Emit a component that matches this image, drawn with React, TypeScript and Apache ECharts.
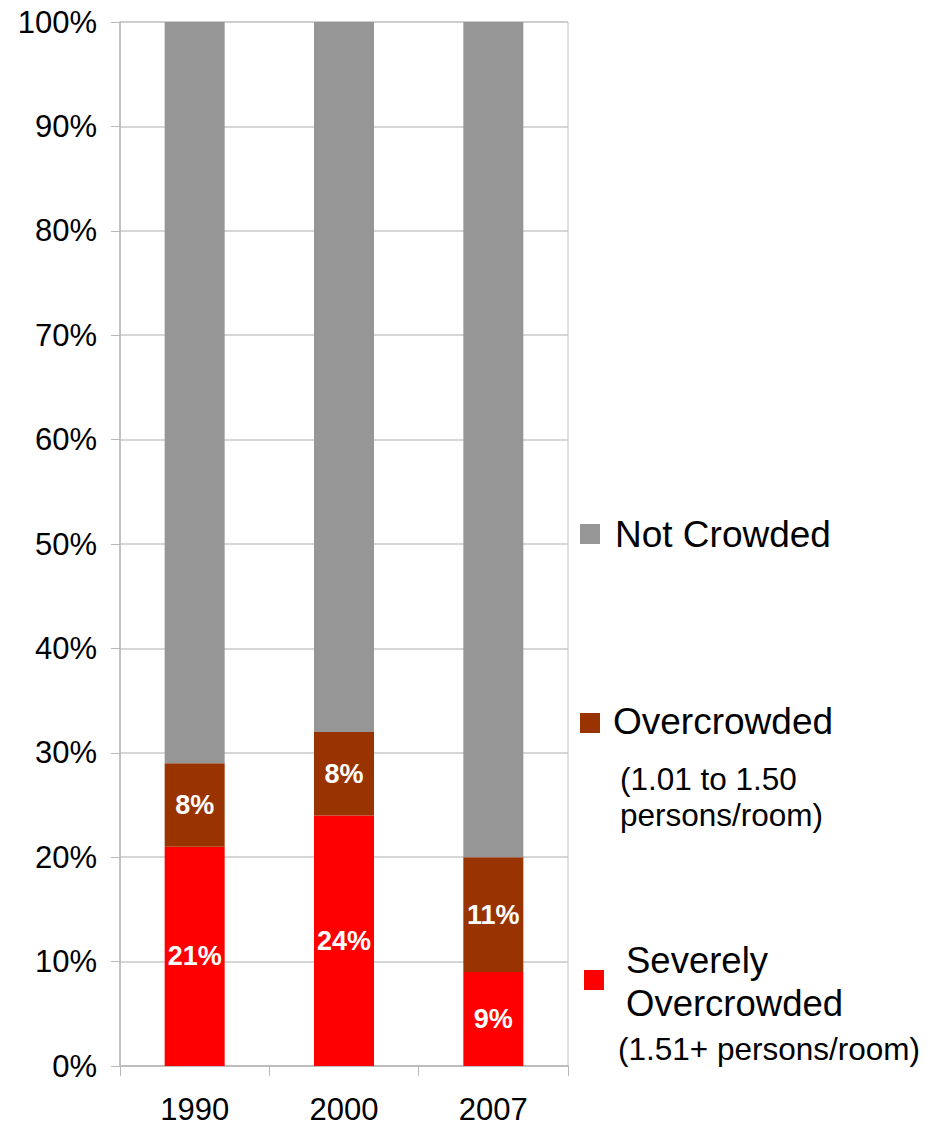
import React, { useEffect, useRef } from "react";
import * as echarts from "echarts";

const years = ["1990", "2000", "2007"];
const severelyOvercrowded = [21, 24, 9];
const overcrowded = [8, 8, 11];
const notCrowded = [71, 68, 80];

const seriesNames = ["Severely Overcrowded", "Overcrowded", "Not Crowded"];
const colors = ["#FF0000", "#993300", "#969696"];

const FONT = "Liberation Sans, Arial, sans-serif";

export default function App() {
  const ref = useRef<HTMLDivElement>(null);
  useEffect(() => {
    if (!ref.current) return;
    const chart = echarts.init(ref.current, undefined, { renderer: "svg" });
    const label = {
      show: true,
      position: "inside",
      color: "#FFFFFF",
      fontWeight: "bold",
      fontSize: 27,
      fontFamily: FONT,
      formatter: (p: any) => `${p.value}%`,
    };
    chart.setOption({
      animation: false,
      backgroundColor: "#FFFFFF",
      grid: {
        left: 120,
        right: 373,
        top: 22,
        bottom: 61,
        show: true,
        borderColor: "#C0C0C0",
        borderWidth: 1,
      },
      xAxis: {
        type: "category",
        data: years,
        axisLine: { lineStyle: { color: "#B8B8B8", width: 1.5 } },
        axisTick: { show: true, length: 10, lineStyle: { color: "#B8B8B8" } },
        axisLabel: { color: "#000", fontSize: 31, fontFamily: FONT, margin: 28 },
      },
      yAxis: {
        type: "value",
        min: 0,
        max: 100,
        interval: 10,
        axisLine: { show: true, lineStyle: { color: "#B8B8B8", width: 1.5 } },
        axisTick: { show: true, length: 9, lineStyle: { color: "#B8B8B8" } },
        splitLine: { lineStyle: { color: "#C8C8C8", width: 1.5 } },
        axisLabel: {
          color: "#000",
          fontSize: 31,
          fontFamily: FONT,
          margin: 23,
          formatter: "{value}%",
        },
      },
      series: [
        {
          name: seriesNames[0],
          type: "bar",
          stack: "total",
          data: severelyOvercrowded,
          barWidth: 60,
          itemStyle: { color: colors[0] },
          label,
        },
        {
          name: seriesNames[1],
          type: "bar",
          stack: "total",
          data: overcrowded,
          barWidth: 60,
          itemStyle: { color: colors[1] },
          label,
        },
        {
          name: seriesNames[2],
          type: "bar",
          stack: "total",
          data: notCrowded,
          barWidth: 60,
          itemStyle: { color: colors[2] },
        },
      ],
      graphic: [
        { type: "rect", left: 580, top: 524, shape: { width: 20, height: 20 }, style: { fill: colors[2] } },
        {
          type: "text",
          left: 615,
          top: 516,
          style: { text: "Not Crowded", font: `37px ${FONT}`, fill: "#000" },
        },
        { type: "rect", left: 580, top: 713, shape: { width: 20, height: 20 }, style: { fill: colors[1] } },
        {
          type: "text",
          left: 613,
          top: 703,
          style: { text: "Overcrowded", font: `37px ${FONT}`, fill: "#000" },
        },
        {
          type: "text",
          left: 620,
          top: 761,
          style: {
            text: "(1.01 to 1.50\npersons/room)",
            font: `31.5px ${FONT}`,
            lineHeight: 36,
            fill: "#000",
          },
        },
        { type: "rect", left: 584, top: 970, shape: { width: 20, height: 20 }, style: { fill: colors[0] } },
        {
          type: "text",
          left: 626,
          top: 939,
          style: {
            text: "Severely\nOvercrowded",
            font: `36.5px ${FONT}`,
            lineHeight: 43,
            fill: "#000",
          },
        },
        {
          type: "text",
          left: 618,
          top: 1033,
          style: { text: "(1.51+ persons/room)", font: `31.5px ${FONT}`, fill: "#000" },
        },
      ],
    });
    return () => chart.dispose();
  }, []);
  return (
    <div
      ref={ref}
      style={{ position: "absolute", left: 0, top: 0, width: 941, height: 1127 }}
    />
  );
}
